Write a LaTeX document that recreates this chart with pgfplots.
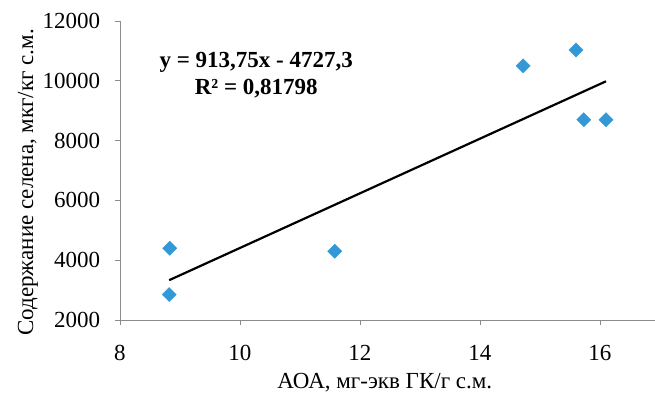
\documentclass[border=0pt]{standalone}
\usepackage{pgfplots}
\pgfplotsset{compat=1.18}
\usepackage{fontspec}
\setmainfont{Liberation Serif}
\definecolor{mk}{HTML}{3399D6}
\definecolor{ax}{HTML}{8C8C8C}
\begin{document}
\fontsize{23}{27}\selectfont
\begin{tikzpicture}
\useasboundingbox (-120pt,-76pt) rectangle (535pt,320pt);
\begin{axis}[
  at={(0,0)}, anchor=south west,
  scale only axis, width=535pt, height=299pt,
  xmin=8, xmax=16.917, ymin=2000, ymax=12000,
  axis x line=bottom, axis y line=left,
  axis line style={ax, line width=0.8pt, -},
  xtick={8,10,12,14,16}, ytick={2000,4000,6000,8000,10000,12000},
  scaled y ticks=false,
  tick align=outside, major tick length=5pt,
  tick style={ax, line width=0.8pt},
  /pgf/number format/assume math mode=true,
  /pgf/number format/1000 sep={},
  yticklabel={\pgfmathprintnumber[fixed,precision=0,1000 sep={}]{\tick}},
  tick label style={font=\fontsize{23}{27}\selectfont, black},
  xticklabel style={yshift=-12pt},
  yticklabel style={xshift=-7pt},
  ylabel={Содержание селена, мкг/кг с.м.},
  xlabel={АОА, мг-экв ГК/г с.м.},
  label style={font=\fontsize{23}{27}\selectfont},
  ylabel style={at={(axis description cs:-0.172,0.46)}, anchor=center},
  xlabel style={at={(axis description cs:0.495,-0.21)}, anchor=center},
  clip=false,
]
\addplot[only marks, mark=square*, mark size=5pt, mark options={rotate=45, fill=mk, draw=mk}]
 coordinates {(8.82,2850) (8.83,4400) (11.58,4300) (14.72,10500) (15.6,11030) (15.73,8700) (16.1,8700)};
\addplot[black, line width=2.2pt] coordinates {(8.82,3331.7) (16.1,9983.1)};
\node[font=\bfseries\fontsize{23}{27}\selectfont, align=center] at (axis cs:10.27,10180)
 {y = 913,75x - 4727,3\\R² = 0,81798};
\end{axis}
\end{tikzpicture}
\end{document}
